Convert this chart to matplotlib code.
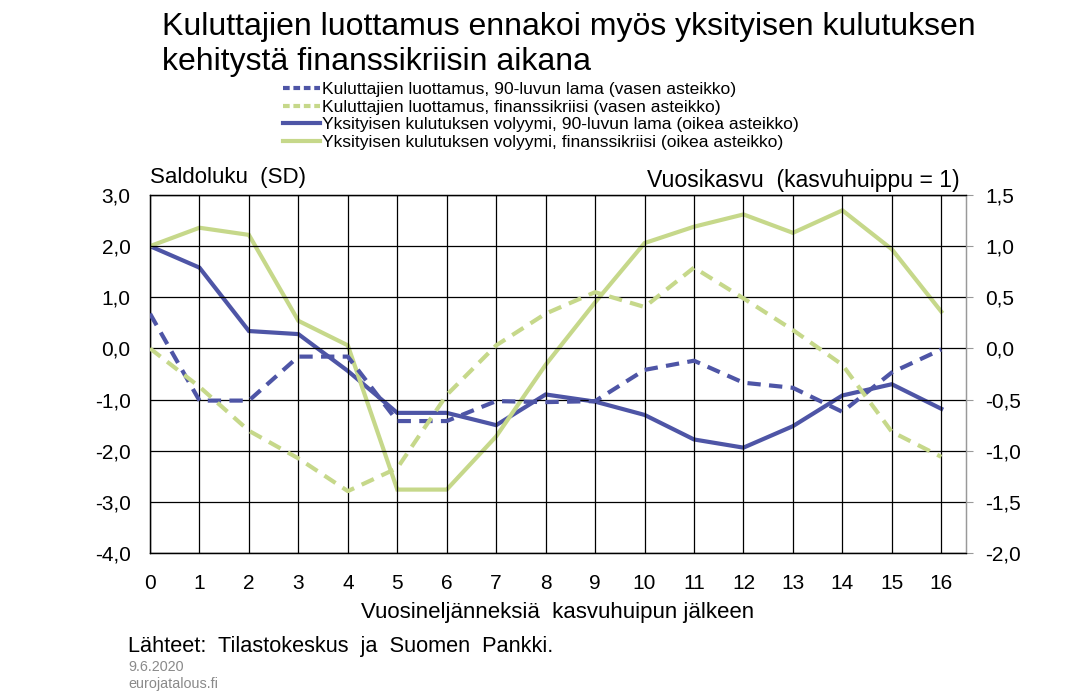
import matplotlib
matplotlib.use('Agg')
import matplotlib.pyplot as plt
from matplotlib.lines import Line2D

plt.rcParams['font.family'] = ['Liberation Sans', 'DejaVu Sans']
plt.rcParams['axes.unicode_minus'] = False

# vuosineljänneksiä kasvuhuipun jälkeen
quarters = list(range(17))

# kuluttajien luottamus (vasen asteikko)
conf_90s = [0.68, -1.02, -1.02, -0.16, -0.16, -1.42, -1.42, -1.03, -1.05, -1.03,
            -0.42, -0.24, -0.67, -0.77, -1.24, -0.47, -0.02]
conf_fin = [0.0, -0.75, -1.61, -2.15, -2.79, -2.34, -0.91, 0.06, 0.68, 1.1,
            0.81, 1.58, 0.98, 0.36, -0.32, -1.63, -2.12]

# yksityisen kulutuksen volyymi (oikea asteikko)
cons_90s = [1.0, 0.79, 0.17, 0.14, -0.22, -0.63, -0.63, -0.75, -0.45, -0.52,
            -0.65, -0.89, -0.97, -0.76, -0.46, -0.35, -0.59]
cons_fin = [1.0, 1.18, 1.11, 0.27, 0.03, -1.38, -1.38, -0.86, -0.16, 0.45,
            1.03, 1.19, 1.31, 1.13, 1.35, 0.97, 0.36]

left_ticks = [-4, -3, -2, -1, 0, 1, 2, 3]
left_labels = ['-4,0', '-3,0', '-2,0', '-1,0', '0,0', '1,0', '2,0', '3,0']
right_ticks = [-2.0, -1.5, -1.0, -0.5, 0.0, 0.5, 1.0, 1.5]
right_labels = ['-2,0', '-1,5', '-1,0', '-0,5', '0,0', '0,5', '1,0', '1,5']

labels = ['Kuluttajien luottamus, 90-luvun lama (vasen asteikko)',
          'Kuluttajien luottamus, finanssikriisi (vasen asteikko)',
          'Yksityisen kulutuksen volyymi, 90-luvun lama (oikea asteikko)',
          'Yksityisen kulutuksen volyymi, finanssikriisi (oikea asteikko)']

blue = '#4E55A6'
green = '#C6D88A'

fig = plt.figure(figsize=(10.68, 6.98), dpi=100)
ax = fig.add_axes([150/1068, 1-553/698, 816/1068, 358/698])
ax2 = ax.twinx()

ax.set_xlim(0, 16.5)
ax.set_ylim(-4, 3)
ax2.set_ylim(-2, 1.5)

# ruudukko
for q in quarters:
    ax.axvline(q, color='black', lw=0.9, zorder=1)
for t in left_ticks:
    ax.axhline(t, color='black', lw=0.9, zorder=1)

ax2.plot(quarters, cons_90s, color=blue, lw=3, solid_joinstyle='miter', zorder=3)
ax2.plot(quarters, cons_fin, color=green, lw=3, solid_joinstyle='miter', zorder=3)
ax.plot(quarters, conf_90s, color=blue, lw=3, dashes=(3.2, 2.0), zorder=3)
ax.plot(quarters, conf_fin, color=green, lw=3, dashes=(3.2, 2.0), zorder=3)
ax.set_zorder(ax2.get_zorder() + 1)
ax.patch.set_visible(False)

ax.set_xticks(quarters)
ax.set_xticklabels([str(q) for q in quarters])
ax.set_yticks(left_ticks)
ax.set_yticklabels(left_labels)
ax.tick_params(axis='both', length=0, labelsize=15)
ax.tick_params(axis='x', pad=15)
ax.tick_params(axis='y', pad=14)

ax2.set_yticks(right_ticks)
ax2.set_yticklabels(right_labels)
ax2.tick_params(axis='y', length=5, color='#999999', labelsize=15, pad=9)

for a in (ax, ax2):
    for s in a.spines.values():
        s.set_color('black')
        s.set_linewidth(0.9)
    a.spines['right'].set_color('#999999')

fig.text(162/1068, 1-12/698, 'Kuluttajien luottamus ennakoi myös yksityisen kulutuksen\nkehitystä finanssikriisin aikana',
         fontsize=23, ha='left', va='top', linespacing=1.2)

handles = [Line2D([], [], color=blue, lw=3, dashes=(1.6, 0.9)),
           Line2D([], [], color=green, lw=3, dashes=(1.6, 0.9)),
           Line2D([], [], color=blue, lw=3),
           Line2D([], [], color=green, lw=3)]
fig.legend(handles, labels, loc='upper left', bbox_to_anchor=(283/1068, 1-82/698),
           frameon=False, fontsize=12.6, handlelength=2.1, handletextpad=0.1,
           labelspacing=0.13, borderpad=0, borderaxespad=0)

fig.text(150/1068, 1-183/698, 'Saldoluku  (SD)', fontsize=16, ha='left', va='baseline')
fig.text(960/1068, 1-187/698, 'Vuosikasvu  (kasvuhuippu = 1)', fontsize=16.6, ha='right', va='baseline')
fig.text(558/1068, 1-618/698, 'Vuosineljänneksiä  kasvuhuipun jälkeen', fontsize=16, ha='center', va='baseline')
fig.text(128/1068, 1-652/698, 'Lähteet:  Tilastokeskus  ja  Suomen  Pankki.', fontsize=15.7, ha='left', va='baseline')
fig.text(128/1068, 1-671/698, '9.6.2020', fontsize=10.4, color='#8a8a8a', ha='left', va='baseline')
fig.text(128/1068, 1-688/698, 'eurojatalous.fi', fontsize=10.4, color='#8a8a8a', ha='left', va='baseline')

fig.savefig('out.png', dpi=100)
